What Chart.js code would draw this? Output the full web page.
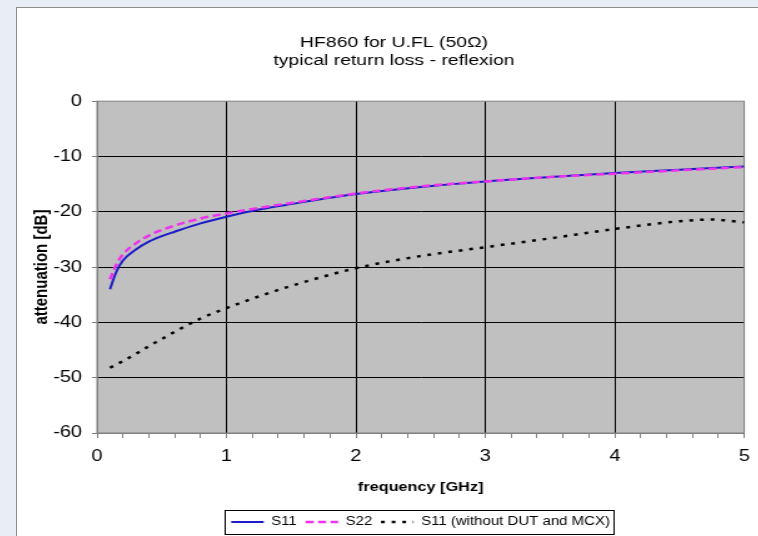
<!DOCTYPE html>
<html>
<head>
<meta charset="utf-8">
<script src="https://cdn.jsdelivr.net/npm/chart.js@4"></script>
<style>
  html, body { margin: 0; padding: 0; background: #e9edf6; overflow: hidden; }
  #panel { position: absolute; left: 16px; top: 7px; width: 800px; height: 560px;
           background: #fff; border-left: 1px solid #8c8c8c; border-top: 1px solid #8c8c8c; }
  #myChart { position: absolute; left: 0; top: 0; }
</style>
</head>
<body>
<div id="panel"><canvas id="myChart" width="603" height="530" style="width:754px;height:530px"></canvas></div>
<script>
// frequency points in GHz
var freq = [0.1, 0.15, 0.2, 0.3, 0.4, 0.5, 0.6, 0.8, 1.0, 1.25, 1.5, 2, 2.5, 3, 3.5, 4, 4.5, 4.75, 5];
// attenuation in dB
var s11 = [-34.0, -30.8, -28.8, -26.8, -25.4, -24.4, -23.6, -22.1, -20.9, -19.6, -18.6, -16.8, -15.5, -14.5, -13.7, -13.0, -12.4, -12.1, -11.8];
var s22 = [-32.2, -29.5, -27.7, -25.7, -24.3, -23.3, -22.5, -21.2, -20.3, -19.3, -18.4, -16.7, -15.4, -14.5, -13.7, -13.1, -12.5, -12.2, -11.9];
var s11Bare = [-48.2, -47.6, -47.0, -45.7, -44.3, -43.0, -41.7, -39.3, -37.4, -35.3, -33.4, -30.2, -28.0, -26.4, -24.8, -23.1, -21.7, -21.4, -21.9];
var seriesNames = ['S11', 'S22', 'S11 (without DUT and MCX)'];
var titleLines = ['HF860 for U.FL (50\u03A9)', 'typical return loss - reflexion'];

function toPoints(ys) {
  return freq.map(function (f, i) { return { x: f, y: ys[i] }; });
}

function isWhole(v) {
  return Math.abs(v - Math.round(v)) < 1e-6;
}

Chart.defaults.font.family = "'Liberation Sans', Arial, sans-serif";
Chart.defaults.color = '#000';

// grey plot area with a thin border, like the old spreadsheet charts
var plotArea = {
  id: 'plotArea',
  beforeDraw: function (chart) {
    var a = chart.chartArea, ctx = chart.ctx;
    ctx.save();
    ctx.fillStyle = '#c0c0c0';
    ctx.fillRect(a.left, a.top, a.right - a.left, a.bottom - a.top);
    ctx.restore();
  },
  beforeDatasetsDraw: function (chart) {
    var a = chart.chartArea, ctx = chart.ctx;
    ctx.save();
    ctx.strokeStyle = '#808080';
    ctx.lineWidth = 1;
    ctx.strokeRect(a.left, a.top, a.right - a.left, a.bottom - a.top);
    ctx.restore();
  }
};

// box round the legend
var legendBox = {
  id: 'legendBox',
  afterDraw: function (chart) {
    var boxes = chart.legend.legendHitBoxes;
    if (!boxes || !boxes.length) return;
    var l = Infinity, r = -Infinity, t = Infinity, b = -Infinity;
    boxes.forEach(function (h) {
      l = Math.min(l, h.left); r = Math.max(r, h.left + h.width);
      t = Math.min(t, h.top); b = Math.max(b, h.top + h.height);
    });
    var ctx = chart.ctx;
    ctx.save();
    ctx.strokeStyle = '#000';
    ctx.lineWidth = 1;
    ctx.strokeRect(Math.round(l - 5) + 0.5, Math.round(t - 6) + 0.5, Math.round(r - l + 8), Math.round(b - t + 12));
    ctx.restore();
  }
};

new Chart('myChart', {
  type: 'line',
  data: {
    datasets: [{
      label: seriesNames[0],
      data: toPoints(s11),
      borderColor: '#1c1cc8',
      borderWidth: 2,
      order: 1
    }, {
      label: seriesNames[1],
      data: toPoints(s22),
      borderColor: '#ee33ee',
      borderWidth: 2.5,
      borderDash: [6.5, 3.5],
      order: 0
    }, {
      label: seriesNames[2],
      data: toPoints(s11Bare),
      borderColor: '#000',
      borderWidth: 2.5,
      borderDash: [3, 5.5],
      order: 2
    }]
  },
  options: {
    responsive: false,
    animation: false,
    devicePixelRatio: 1,
    layout: { padding: 0 },
    elements: {
      point: { radius: 0 },
      line: { cubicInterpolationMode: 'monotone', fill: false }
    },
    plugins: {
      title: {
        display: true,
        text: titleLines,
        font: { size: 15.5, weight: 'normal', lineHeight: 1.2 },
        padding: { top: 25, bottom: 31 }
      },
      legend: {
        position: 'bottom',
        fullSize: false,
        labels: {
          usePointStyle: true,
          pointStyle: 'line',
          pointStyleWidth: 26,
          padding: 7,
          font: { size: 12 },
          sort: function (a, b) { return a.datasetIndex - b.datasetIndex; },
          generateLabels: function (chart) {
            var items = Chart.defaults.plugins.legend.labels.generateLabels(chart);
            items.forEach(function (it) {
              var ds = chart.data.datasets[it.datasetIndex];
              it.lineDash = ds.borderDash || [];
              it.lineWidth = ds.borderWidth;
              it.strokeStyle = ds.borderColor;
            });
            return items;
          }
        }
      },
      tooltip: { enabled: false }
    },
    scales: {
      x: {
        type: 'linear',
        position: 'bottom',
        min: 0,
        max: 5,
        ticks: {
          stepSize: 0.2,
          autoSkip: false,
          maxRotation: 0,
          padding: 9,
          font: { size: 16 },
          callback: function (v) { return isWhole(v) ? String(Math.round(v)) : ''; }
        },
        grid: {
          color: function (c) {
            var v = c.tick ? c.tick.value : 0;
            return (isWhole(v) && v > 0 && v < 5) ? '#000' : 'rgba(0,0,0,0)';
          },
          tickColor: '#808080',
          tickLength: 5
        },
        border: { color: '#808080' },
        title: {
          display: true,
          text: 'frequency [GHz]',
          font: { size: 13, weight: 'bold' },
          padding: { top: 0, bottom: 14 }
        },
        afterFit: function (s) { s.height = 76; s.paddingRight = 21.4; }
      },
      y: {
        min: -60,
        max: 0,
        ticks: {
          stepSize: 10,
          padding: 8,
          font: { size: 16 }
        },
        grid: {
          color: function (c) {
            var v = c.tick ? c.tick.value : 0;
            return (v > -60 && v < 0) ? '#000' : 'rgba(0,0,0,0)';
          },
          tickColor: '#808080',
          tickLength: 4
        },
        border: { color: '#808080' },
        title: {
          display: true,
          text: 'attenuation [dB]',
          font: { size: 15, weight: 'bold' },
          padding: { top: 11, bottom: 0 }
        },
        afterFit: function (s) { s.width = 64; }
      }
    }
  },
  plugins: [plotArea, legendBox]
});
</script>
</body>
</html>
